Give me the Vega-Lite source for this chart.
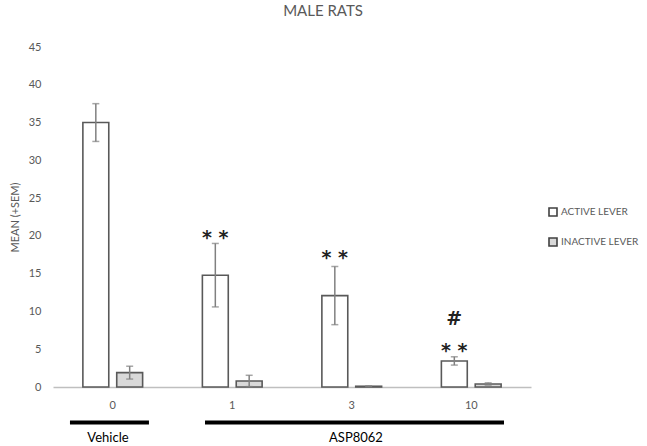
{
  "$schema": "https://vega.github.io/schema/vega-lite/v6.json",
  "width": 478,
  "height": 340,
  "autosize": {"type": "none"},
  "padding": {"left": 53, "top": 47, "right": 116, "bottom": 59},
  "background": "white",
  "config": {
    "view": {"stroke": null},
    "font": "Lato",
    "axis": {"labelOverlap": false, "labelFlush": false, "labelBound": false},
    "axisY": {
      "labelOverlap": false,
      "labelColor": "#595959",
      "labelFontSize": 11,
      "labelPadding": 12,
      "ticks": false,
      "domain": false,
      "grid": false,
      "titleFontSize": 11,
      "titleFontWeight": "normal",
      "titleColor": "#595959",
      "titlePadding": 8
    }
  },
  "title": {
    "text": "MALE RATS",
    "font": "Lato",
    "fontSize": 15,
    "fontWeight": "normal",
    "color": "#595959",
    "anchor": "middle",
    "dx": 31,
    "offset": 22
  },
  "datasets": {
    "responses": [
      {"dose": "0", "lever": "ACTIVE LEVER", "mean": 35.0, "lo": 32.5, "hi": 37.5},
      {"dose": "0", "lever": "INACTIVE LEVER", "mean": 1.9, "lo": 1.05, "hi": 2.75},
      {"dose": "1", "lever": "ACTIVE LEVER", "mean": 14.8, "lo": 10.6, "hi": 19.0},
      {"dose": "1", "lever": "INACTIVE LEVER", "mean": 0.8, "lo": 0.05, "hi": 1.55},
      {"dose": "3", "lever": "ACTIVE LEVER", "mean": 12.1, "lo": 8.25, "hi": 15.95},
      {"dose": "3", "lever": "INACTIVE LEVER", "mean": 0.1, "lo": 0.05, "hi": 0.15},
      {"dose": "10", "lever": "ACTIVE LEVER", "mean": 3.45, "lo": 2.9, "hi": 4.0},
      {"dose": "10", "lever": "INACTIVE LEVER", "mean": 0.4, "lo": 0.25, "hi": 0.55}
    ],
    "significance": [
      {"dose": "1", "lever": "ACTIVE LEVER", "mark": "* *", "at": 18.9},
      {"dose": "3", "lever": "ACTIVE LEVER", "mark": "* *", "at": 16.3},
      {"dose": "10", "lever": "ACTIVE LEVER", "mark": "* *", "at": 4.0},
      {"dose": "10", "lever": "ACTIVE LEVER", "mark": "#", "at": 8.2}
    ],
    "groups": [
      {"group": "Vehicle", "start": 0.142, "end": 0.803, "mid": 0.46},
      {"group": "ASP8062", "start": 1.272, "end": 3.774, "mid": 2.535}
    ]
  },
  "layer": [
    {
      "data": {"name": "responses"},
      "mark": {"type": "bar", "stroke": "#595959", "strokeWidth": 1.6},
      "encoding": {
        "x": {
          "field": "dose",
          "type": "nominal",
          "sort": ["0", "1", "3", "10"],
          "scale": {"paddingInner": 0.5, "paddingOuter": 0.25},
          "axis": {
            "title": null,
            "labelAngle": 0,
            "labelColor": "#595959",
            "labelFontSize": 11,
            "labelPadding": 12,
            "ticks": false,
            "domainColor": "#bfbfbf",
            "domainWidth": 1.5
          }
        },
        "xOffset": {
          "field": "lever",
          "type": "nominal",
          "scale": {"paddingInner": 0.235, "paddingOuter": 0}
        },
        "y": {
          "field": "mean",
          "type": "quantitative",
          "scale": {"domain": [0, 45], "nice": false},
          "axis": {"title": "MEAN (+SEM)", "tickCount": 9, "tickMinStep": 5, "labelOverlap": false}
        },
        "color": {
          "field": "lever",
          "type": "nominal",
          "scale": {"domain": ["ACTIVE LEVER", "INACTIVE LEVER"], "range": ["#ffffff", "#d9d9d9"]},
          "legend": {
            "title": null,
            "orient": "none",
            "legendX": 495,
            "legendY": 160,
            "symbolType": "square",
            "symbolSize": 64,
            "symbolStrokeColor": "#404040",
            "symbolStrokeWidth": 1.6,
            "labelColor": "#595959",
            "labelFontSize": 10,
            "labelOffset": 3,
            "rowPadding": 14
          }
        }
      }
    },
    {
      "data": {"name": "responses"},
      "mark": {"type": "rule", "color": "#808080", "strokeWidth": 1.5},
      "encoding": {
        "x": {"field": "dose", "type": "nominal", "sort": ["0", "1", "3", "10"], "scale": {"paddingInner": 0.5, "paddingOuter": 0.25}, "axis": null},
        "xOffset": {"field": "lever", "type": "nominal", "scale": {"paddingInner": 0.235, "paddingOuter": 0}},
        "y": {"field": "lo", "type": "quantitative", "title": "MEAN (+SEM)"},
        "y2": {"field": "hi"}
      }
    },
    {
      "data": {"name": "responses"},
      "mark": {"type": "tick", "color": "#808080", "size": 7, "thickness": 1.5},
      "encoding": {
        "x": {"field": "dose", "type": "nominal", "sort": ["0", "1", "3", "10"], "scale": {"paddingInner": 0.5, "paddingOuter": 0.25}, "axis": null},
        "xOffset": {"field": "lever", "type": "nominal", "scale": {"paddingInner": 0.235, "paddingOuter": 0}},
        "y": {"field": "lo", "type": "quantitative", "title": "MEAN (+SEM)"}
      }
    },
    {
      "data": {"name": "responses"},
      "mark": {"type": "tick", "color": "#808080", "size": 7, "thickness": 1.5},
      "encoding": {
        "x": {"field": "dose", "type": "nominal", "sort": ["0", "1", "3", "10"], "scale": {"paddingInner": 0.5, "paddingOuter": 0.25}, "axis": null},
        "xOffset": {"field": "lever", "type": "nominal", "scale": {"paddingInner": 0.235, "paddingOuter": 0}},
        "y": {"field": "hi", "type": "quantitative", "title": "MEAN (+SEM)"}
      }
    },
    {
      "data": {"name": "significance"},
      "mark": {"type": "text", "font": "DejaVu Sans", "fontSize": 19, "fontWeight": "bold", "color": "#222222", "baseline": "alphabetic", "align": "center"},
      "encoding": {
        "x": {"field": "dose", "type": "nominal", "sort": ["0", "1", "3", "10"], "scale": {"domain": ["0", "1", "3", "10"], "paddingInner": 0.5, "paddingOuter": 0.25}, "axis": null},
        "xOffset": {"field": "lever", "type": "nominal", "scale": {"domain": ["ACTIVE LEVER", "INACTIVE LEVER"], "paddingInner": 0.235, "paddingOuter": 0}},
        "y": {"field": "at", "type": "quantitative", "title": "MEAN (+SEM)"},
        "text": {"field": "mark"}
      }
    },
    {
      "data": {"name": "groups"},
      "mark": {"type": "rule", "color": "#000000", "strokeWidth": 4, "clip": false},
      "encoding": {
        "x": {"field": "start", "type": "quantitative", "scale": {"domain": [0, 4], "nice": false, "zero": false}, "axis": null},
        "x2": {"field": "end"},
        "y": {"datum": -4.7, "type": "quantitative", "title": "MEAN (+SEM)"}
      }
    },
    {
      "data": {"name": "groups"},
      "mark": {"type": "text", "color": "#000000", "fontSize": 13, "font": "Lato", "baseline": "middle", "clip": false},
      "encoding": {
        "x": {"field": "mid", "type": "quantitative", "scale": {"domain": [0, 4], "nice": false, "zero": false}, "axis": null},
        "y": {"datum": -6.7, "type": "quantitative", "title": "MEAN (+SEM)"},
        "text": {"field": "group"}
      }
    }
  ],
  "resolve": {"scale": {"x": "independent"}, "axis": {"x": "independent"}}
}
